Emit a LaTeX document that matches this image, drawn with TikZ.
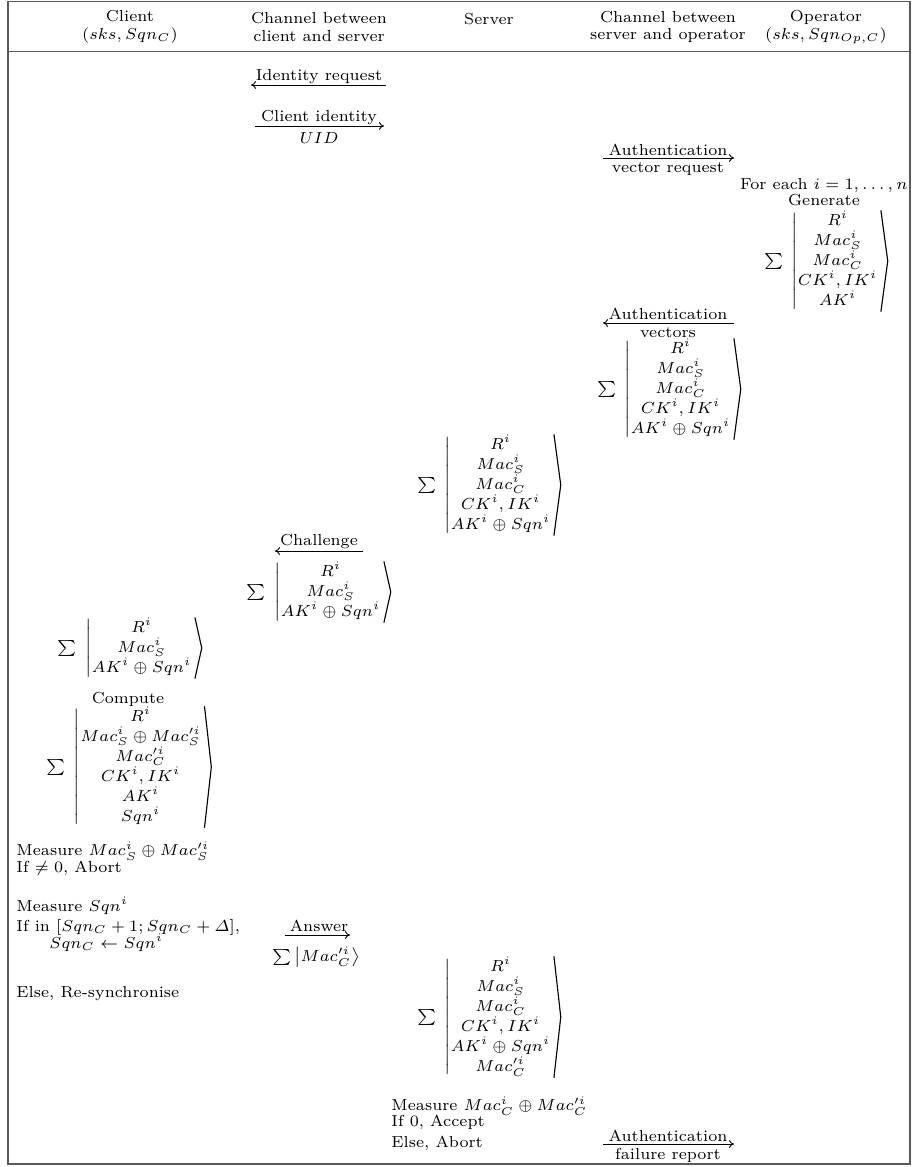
\documentclass[tikz,border=0pt]{standalone}
\usepackage{amsmath}
\usetikzlibrary{arrows.meta}
\newcommand\kvec[1]{$\sum\;\left|\renewcommand\arraystretch{1.08}\begin{array}{@{}c@{}}#1\end{array}\right.$}
\begin{document}
\begin{tikzpicture}[x=0.4386pt,y=-0.4386pt,
  font=\fontsize{7}{7.6}\selectfont,
  every node/.style={inner sep=0pt},
  msg/.style={-{To[length=2.2pt,width=3.4pt]}, line width=0.4pt},
  brk/.style={line width=0.5pt, line join=miter},
  frame/.style={draw=black!65, line width=0.7pt},
  lft/.style={anchor=west}]
\useasboundingbox (0,0) rectangle (911,1167);
% frame
\draw[frame] (8,1.5) rectangle (910,1164);
\coordinate (hl) at (8,51.5); \coordinate (hr) at (910,51.5);
\draw[frame] (hl) -- (hr);
% header
\node[align=center] (hC) at (130,27) {Client\\$(sks, Sqn_C)$};
\node[align=center] (hCS) at (319,27) {Channel between\\client and server};
\node (hS) at (489,19) {Server};
\node[align=center] (hSO) at (668,27) {Channel between\\server and operator};
\node[align=center] (hO) at (826,27) {Operator\\$(sks, Sqn_{Op,C})$};
% identity request
\node (tId) at (319,77) {Identity request};
\coordinate (idA) at (386,85); \coordinate (idB) at (251,85);
\draw[msg] (idA) -- (idB);
% client identity
\node (tCI) at (319,118) {Client identity};
\coordinate (ciA) at (255,126); \coordinate (ciB) at (384,126);
\draw[msg] (ciA) -- (ciB);
\node (tUID) at (319,138) {$UID$};
% authentication vector request
\node (tAR) at (668,150) {Authentication};
\coordinate (arA) at (603,158); \coordinate (arB) at (734,158);
\draw[msg] (arA) -- (arB);
\node (tAR2) at (668,169) {vector request};
% operator generate
\node[anchor=east] (fe) at (908,186) {For each $i = 1, \ldots, n$};
\node (gen) at (824,200) {Generate};
\node (vO) at (822,261) {\kvec{R^i\\ Mac^i_S\\ Mac^i_C\\ CK^i, IK^i\\ AK^i}};
\draw[brk] ([xshift=0.2pt]vO.north east) -- ([xshift=3.2pt]vO.east) -- ([xshift=0.2pt]vO.south east);
% authentication vectors
\node (tAV) at (668,314) {Authentication};
\coordinate (avA) at (734,323); \coordinate (avB) at (603,323);
\draw[msg] (avA) -- (avB);
\node (tAV2) at (668,333) {vectors};
\node (vAV) at (665,389) {\kvec{R^i\\ Mac^i_S\\ Mac^i_C\\ CK^i, IK^i\\ AK^i \oplus Sqn^i}};
\draw[brk] ([xshift=0.2pt]vAV.north east) -- ([xshift=3.2pt]vAV.east) -- ([xshift=0.2pt]vAV.south east);
% server
\node (vS) at (485,485) {\kvec{R^i\\ Mac^i_S\\ Mac^i_C\\ CK^i, IK^i\\ AK^i \oplus Sqn^i}};
\draw[brk] ([xshift=0.2pt]vS.north east) -- ([xshift=3.2pt]vS.east) -- ([xshift=0.2pt]vS.south east);
% challenge
\node (tCh) at (319,542) {Challenge};
\coordinate (chA) at (363,551); \coordinate (chB) at (275,551);
\draw[msg] (chA) -- (chB);
\node (vCh) at (315,592) {\kvec{R^i\\ Mac^i_S\\ AK^i \oplus Sqn^i}};
\draw[brk] ([xshift=0.2pt]vCh.north east) -- ([xshift=3.2pt]vCh.east) -- ([xshift=0.2pt]vCh.south east);
% client receives
\node (vC) at (126,648) {\kvec{R^i\\ Mac^i_S\\ AK^i \oplus Sqn^i}};
\draw[brk] ([xshift=0.2pt]vC.north east) -- ([xshift=3.2pt]vC.east) -- ([xshift=0.2pt]vC.south east);
\node (comp) at (128,699) {Compute};
\node (vCC) at (125,767) {\kvec{R^i\\ Mac^i_S \oplus Mac'^i_S\\ Mac'^i_C\\ CK^i, IK^i\\ AK^i\\ Sqn^i}};
\draw[brk] ([xshift=0.2pt]vCC.north east) -- ([xshift=3.2pt]vCC.east) -- ([xshift=0.2pt]vCC.south east);
\node[lft] (m1) at (16,851) {Measure $Mac^i_S \oplus Mac'^i_S$};
\node[lft] (m2) at (16,868) {If $\neq 0$, Abort};
\node[lft] (m3) at (16,906) {Measure $Sqn^i$};
\node[lft] (m4) at (16,927) {If in $[Sqn_C + 1; Sqn_C + \varDelta]$,};
\node[lft] (m5) at (49,943) {$Sqn_C \leftarrow Sqn^i$};
\node[lft] (m6) at (16,994) {Else, Re-synchronise};
% answer
\node (tAn) at (319,926) {Answer};
\coordinate (anA) at (285,935); \coordinate (anB) at (350,935);
\draw[msg] (anA) -- (anB);
\node (vAn) at (316,957) {$\sum\left|Mac'^i_C\right\rangle$};
% server final
\node (vSF) at (485,1017) {\kvec{R^i\\ Mac^i_S\\ Mac^i_C\\ CK^i, IK^i\\ AK^i \oplus Sqn^i\\ Mac'^i_C}};
\draw[brk] ([xshift=0.2pt]vSF.north east) -- ([xshift=3.2pt]vSF.east) -- ([xshift=0.2pt]vSF.south east);
\node[lft] (s1) at (391,1106) {Measure $Mac^i_C \oplus Mac'^i_C$};
\node[lft] (s2) at (391,1122) {If 0, Accept};
\node[lft] (s3) at (391,1143) {Else, Abort};
% failure report
\node (tFR) at (668,1136) {Authentication};
\coordinate (frA) at (603,1144); \coordinate (frB) at (734,1144);
\draw[msg] (frA) -- (frB);
\node (tFR2) at (668,1155) {failure report};
\end{tikzpicture}
\end{document}
